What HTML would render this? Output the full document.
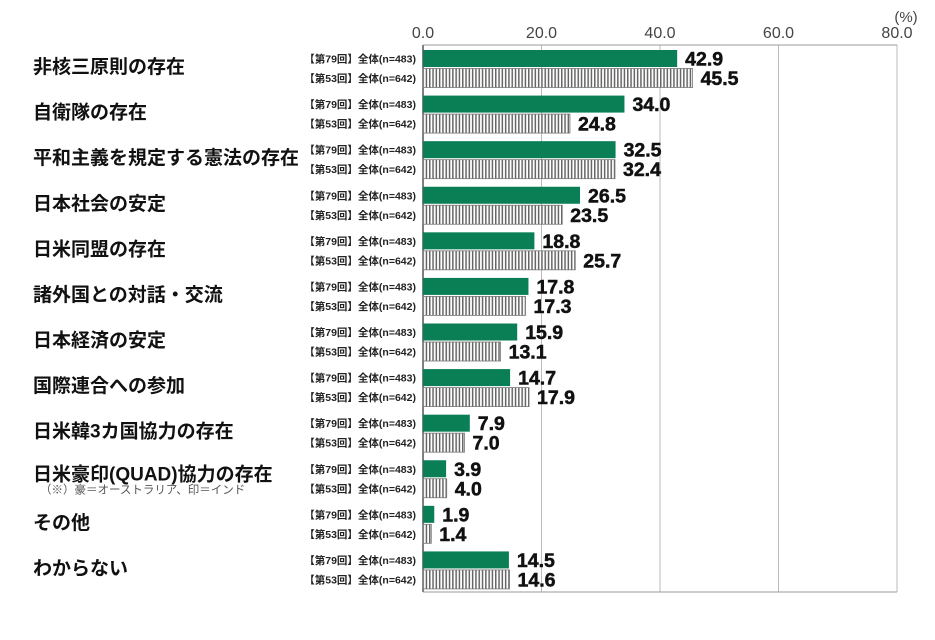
<!DOCTYPE html>
<html><head><meta charset="utf-8"><style>
body{margin:0;background:#fff;width:935px;height:635px;overflow:hidden}
svg text{font-family:"Liberation Sans","Noto Sans CJK JP",sans-serif}
</style></head><body>
<svg id="chart" width="935" height="635" xmlns="http://www.w3.org/2000/svg">
<defs>
<pattern id="stripe" width="3.3" height="10" patternUnits="userSpaceOnUse">
<rect width="3.3" height="10" fill="#fff"/><rect width="1.5" height="10" fill="#666"/>
</pattern>
</defs>
<g id="grid"></g><g id="bars"></g><g id="labels"></g>
</svg>
<script>
const categories=["非核三原則の存在","自衛隊の存在","平和主義を規定する憲法の存在","日本社会の安定","日米同盟の存在","諸外国との対話・交流","日本経済の安定","国際連合への参加","日米韓3カ国協力の存在","日米豪印(QUAD)協力の存在","その他","わからない"];
const series79=[42.9,34.0,32.5,26.5,18.8,17.8,15.9,14.7,7.9,3.9,1.9,14.5];
const series53=[45.5,24.8,32.4,23.5,25.7,17.3,13.1,17.9,7.0,4.0,1.4,14.6];
const seriesNames=["【第79回】全体(n=483)","【第53回】全体(n=642)"];
const ticks=[0,20,40,60,80];
const tickLabels=["0.0","20.0","40.0","60.0","80.0"];
const NS="http://www.w3.org/2000/svg";
const x0=423,x1=897,yTop=45,yBottom=592;
const xs=v=>x0+(v/80)*(x1-x0);
const rowH=(yBottom-yTop)/categories.length;
function mk(tag,attrs,parent,text){const e=document.createElementNS(NS,tag);for(const k in attrs)e.setAttribute(k,attrs[k]);if(text!==undefined)e.textContent=text;parent.appendChild(e);return e;}
const g=document.getElementById('grid'),b=document.getElementById('bars'),l=document.getElementById('labels');
ticks.forEach((t,i)=>{
 if(i>0){const ln=mk('line',{x1:xs(t),x2:xs(t),y1:yTop,y2:yBottom,stroke:'#bbb','stroke-width':1},g);
 
 }
 const tx=mk('text',{x:xs(t),y:38,'text-anchor':'middle','font-size':16,fill:'#444'},l,tickLabels[i]);
 
 
});
const pu=mk('text',{x:906,y:22,'text-anchor':'middle','font-size':15,fill:'#444'},l,'(%)');


categories.forEach((c,i)=>{
 const ry=yTop+i*rowH;
 const cl=mk('text',{x:33,y:ry+(i===9?25:28),'font-size':19,'font-weight':'bold',fill:'#111'},l,c);
 
 
 if(i===9){const n=mk('text',{x:40,y:ry+38,'font-size':11.5,fill:'#555'},l,'（※）豪＝オーストラリア、印＝インド');
 
 }
 [[series79[i],'#0a7e55',ry+5,17],[series53[i],'url(#stripe)',ry+23.5,19]].forEach((s,j)=>{
  const r=mk('rect',{x:x0,y:s[2],width:xs(s[0])-x0,height:s[3],fill:s[1],stroke:j?'#777':'none','stroke-width':j?0.8:0},b);
  
  
  const sl=mk('text',{x:416,y:s[2]+s[3]/2+4,'text-anchor':'end','font-size':10.5,'font-weight':'bold',fill:'#222'},l,seriesNames[j]);
  
  
  const vl=mk('text',{x:xs(s[0])+8,y:s[2]+s[3]/2+7,'font-size':19.5,'font-weight':'900',fill:'#111',stroke:'#111','stroke-width':0.5},l,s[0].toFixed(1));
  
  
 });
});
const ax=mk('line',{x1:x0,x2:x0,y1:yTop,y2:yBottom,stroke:'#555','stroke-width':1.5},g);


const tp=mk('line',{x1:x0,x2:x1,y1:yTop,y2:yTop,stroke:'#999','stroke-width':1},g);


const bt=mk('line',{x1:x0,x2:x1,y1:yBottom,y2:yBottom,stroke:'#999','stroke-width':1},g);


</script>
</body></html>
